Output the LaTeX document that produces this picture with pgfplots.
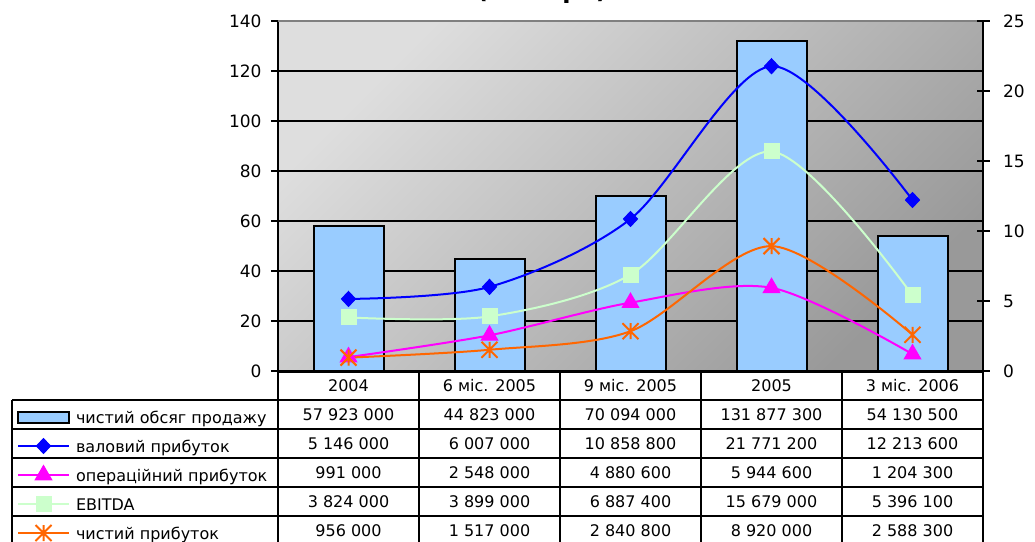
\documentclass[border=0pt]{standalone}
\usepackage{fontspec}
\setmainfont{DejaVu Sans}
\usepackage{pgfplots}
\usepackage{pgfplotstable}
\pgfplotsset{compat=1.18}

\definecolor{barblue}{HTML}{99CCFF}
\definecolor{valblue}{HTML}{0000FF}
\definecolor{opmag}{HTML}{FF00FF}
\definecolor{ebgreen}{HTML}{CCFFCC}
\definecolor{netorange}{HTML}{FF6600}
\definecolor{bgtop}{HTML}{DEDEDE}
\definecolor{bgbot}{HTML}{999999}

% Excel-like star: X plus a vertical bar
\pgfdeclareplotmark{xstar}{%
  \pgfpathmoveto{\pgfqpoint{0pt}{\pgfplotmarksize}}%
  \pgfpathlineto{\pgfqpoint{0pt}{-\pgfplotmarksize}}%
  \pgfpathmoveto{\pgfqpoint{\pgfplotmarksize}{\pgfplotmarksize}}%
  \pgfpathlineto{\pgfqpoint{-\pgfplotmarksize}{-\pgfplotmarksize}}%
  \pgfpathmoveto{\pgfqpoint{-\pgfplotmarksize}{\pgfplotmarksize}}%
  \pgfpathlineto{\pgfqpoint{\pgfplotmarksize}{-\pgfplotmarksize}}%
  \pgfusepathqstroke}

% values in million UAH
\pgfplotstableread{
x sales gross oper ebitda net
0 57.923 5.146 0.991 3.824 0.956
1 44.823 6.007 2.548 3.899 1.517
2 70.094 10.8588 4.8806 6.8874 2.8408
3 131.8773 21.7712 5.9446 15.679 8.92
4 54.1305 12.2136 1.2043 5.3961 2.5883
}\fin

\pgfplotsset{
  barleg/.style={legend image code/.code={\draw[##1] (0pt,-5.5pt) rectangle (51pt,5.5pt);}},
  common/.style={
    width=705pt, height=350pt, scale only axis,
    at={(278pt,170pt)}, anchor=south west,
    xmin=-0.5, xmax=4.5, ymin=0,
    xtick=\empty,
    ticklabel style={font=\fontsize{17}{20}\selectfont},
    /pgf/number format/assume math mode=true,
    tick style={black, line width=2pt},
    axis line style={black, line width=2pt, -},
    clip=false,
  },
}

\newcommand{\cellfont}{\fontsize{16}{19}\selectfont}

\begin{document}
\begin{tikzpicture}[x=1pt,y=1pt]
\useasboundingbox (0,0) rectangle (1035,541);
\clip (0,0) rectangle (1035,541);
\fill[white] (0,0) rectangle (1035,541);
\node[font=\bfseries\fontsize{24}{28}\selectfont, anchor=base] at (542,542) {(млн грн)};

\begin{axis}[common, ymax=140, ytick={0,20,...,140},
  axis x line*=bottom, axis y line*=left,
  tick align=outside, major tick length=7pt,
  yticklabel style={xshift=-6pt},
  ymajorgrids, major grid style={black, line width=2pt},
  axis background/.style={top color=bgtop, bottom color=bgbot, shading angle=45},
]
  \addplot[ybar, bar width=70pt, bar shift=0pt, fill=barblue, draw=black, line width=2pt]
    table[x=x, y=sales]{\fin};
  \draw[gray, line width=2pt] (axis cs:-0.5,140) -- (axis cs:4.5,140);
\end{axis}

\begin{axis}[common, ymax=25, ytick={0,5,...,25},
  axis x line=none, axis y line*=right,
  tick align=center, major tick length=13pt,
  yticklabel style={xshift=10pt},
  legend style={at={(-0.370213,-0.09)}, anchor=north west, draw=none, fill=none,
    inner sep=0pt, outer sep=0pt, column sep=6pt, row sep=0pt,
    nodes={minimum height=29pt, inner sep=0pt}, font=\cellfont},
  legend cell align=left,
  legend image code/.code={\draw[mark repeat=2,mark phase=2,#1] plot coordinates {(0pt,0pt) (25.5pt,0pt) (51pt,0pt)};},
]
  \addlegendimage{barleg, fill=barblue, draw=black, line width=2pt}
  \addlegendentry{\rule{0pt}{14pt}\smash{чистий обсяг продажу}}
  \addplot[valblue, line width=2pt, smooth, mark=diamond*, mark size=7.5pt, mark options={solid, line width=1pt, xscale=1.25}]
    table[x=x, y=gross]{\fin};
  \addlegendentry{\rule{0pt}{14pt}\smash{валовий прибуток}}
  \addplot[opmag, line width=2pt, smooth, mark=triangle*, mark size=9.5pt, mark options={solid, line width=1pt}]
    table[x=x, y=oper]{\fin};
  \addlegendentry{\rule{0pt}{14pt}\smash{операційний прибуток}}
  \addplot[ebgreen, line width=2pt, smooth, mark=square*, mark size=7.5pt, mark options={solid, line width=1pt}]
    table[x=x, y=ebitda]{\fin};
  \addlegendentry{\rule{0pt}{14pt}\smash{EBITDA}}
  \addplot[netorange, line width=2pt, smooth, mark=xstar, mark size=8pt, mark options={solid, line width=2pt}]
    table[x=x, y=net]{\fin};
  \addlegendentry{\rule{0pt}{14pt}\smash{чистий прибуток}}
\end{axis}

% data table under the chart
\begin{scope}[line width=2pt]
  \foreach \y in {141,112,83,54,25} \draw (12,\y) -- (983,\y);
  \draw (12,-4) -- (12,141);
  \foreach \x in {278,419,560,701,842,983} \draw (\x,-4) -- (\x,170);
  \draw[line width=3pt] (277,170) -- (984,170);
\end{scope}

\tikzset{cell/.style={font=\cellfont, text height=11.7pt, text depth=0pt, inner sep=0pt}}
\foreach \lab [count=\i from 0] in {2004, 6 міс. 2005, 9 міс. 2005, 2005, 3 міс. 2006}
  \node[cell] at (348.5+141*\i, 155.5) {\lab};
\foreach \lab [count=\i from 0] in {57 923 000, 44 823 000, 70 094 000, 131 877 300, 54 130 500}
  \node[cell] at (348.5+141*\i, 126.5) {\lab};
\foreach \lab [count=\i from 0] in {5 146 000, 6 007 000, 10 858 800, 21 771 200, 12 213 600}
  \node[cell] at (348.5+141*\i, 97.5) {\lab};
\foreach \lab [count=\i from 0] in {991 000, 2 548 000, 4 880 600, 5 944 600, 1 204 300}
  \node[cell] at (348.5+141*\i, 68.5) {\lab};
\foreach \lab [count=\i from 0] in {3 824 000, 3 899 000, 6 887 400, 15 679 000, 5 396 100}
  \node[cell] at (348.5+141*\i, 39.5) {\lab};
\foreach \lab [count=\i from 0] in {956 000, 1 517 000, 2 840 800, 8 920 000, 2 588 300}
  \node[cell] at (348.5+141*\i, 10.5) {\lab};
\end{tikzpicture}
\end{document}
